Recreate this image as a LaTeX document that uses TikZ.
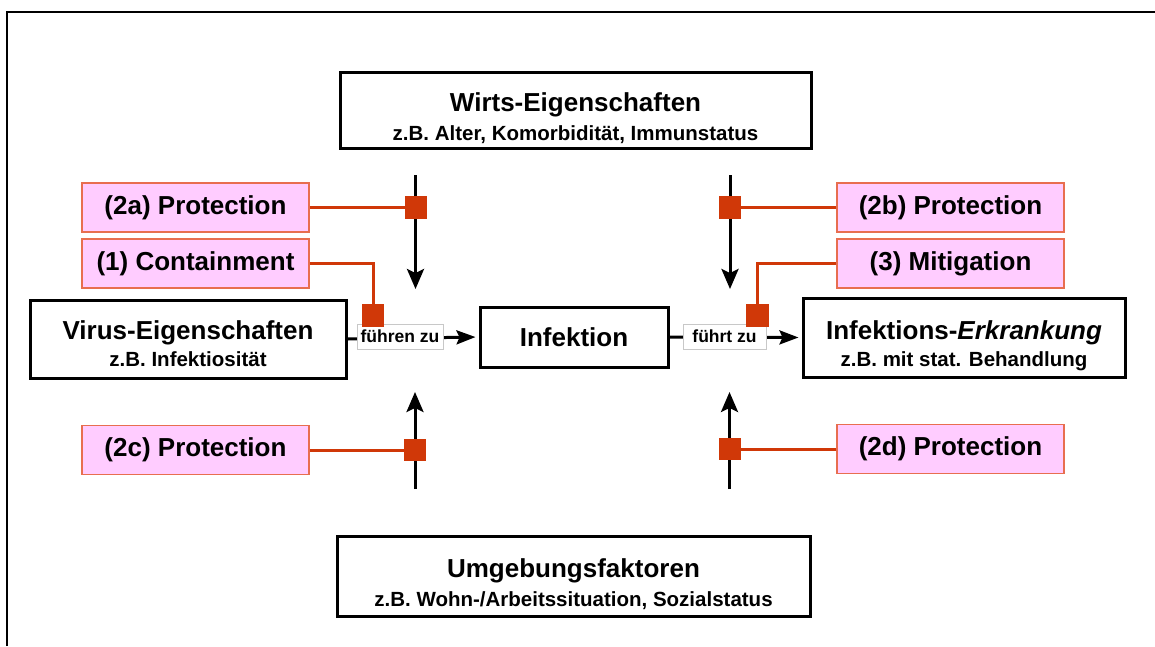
\documentclass[tikz,border=0pt]{standalone}
\usepackage{fontspec}
\setmainfont{Liberation Sans}
\usetikzlibrary{arrows.meta}
\definecolor{pinkfill}{RGB}{255,204,255}
\definecolor{pinkline}{RGB}{232,110,80}
\definecolor{redc}{RGB}{208,56,8}
\definecolor{labgray}{RGB}{200,200,200}
\newcommand{\mytitlefont}{\fontsize{26}{30}\selectfont\bfseries}
\newcommand{\mysubfont}{\fontsize{20.5}{29}\selectfont\bfseries}
\newcommand{\mylabfont}{\fontsize{17.5}{20}\selectfont\bfseries}
\begin{document}
\begin{tikzpicture}[x=1pt,y=-1pt,
  mainbox/.style={draw, line width=3pt, fill=white, inner sep=0pt, align=center},
  pinkbox/.style={draw=pinkline, line width=1.5pt, fill=pinkfill, minimum width=227pt, minimum height=49pt, inner sep=0pt, font=\mytitlefont},
  redsq/.style={fill=redc, minimum size=22pt, inner sep=0pt},
  redln/.style={draw=redc, line width=3pt},
  flowv/.style={line width=3pt, -{Stealth[length=20pt,width=17pt,inset=4pt]}},
  flowh/.style={line width=3pt, -{Stealth[length=19pt,width=14pt,inset=3pt]}},
  lab/.style={draw=labgray, line width=1pt, fill=white, minimum height=25pt, inner sep=0pt, font=\mylabfont}]
\useasboundingbox (0,0) rectangle (1155,646);
% frame
\draw[line width=2.5pt] (7,646) -- (7,12) -- (1155,12);

% main boxes
\node[mainbox, minimum width=471pt, minimum height=76pt] (wirts) at (575.5,110)
  {\mytitlefont\rule{0pt}{35pt}Wirts-Eigenschaften\\[7pt] \mysubfont z.B. Alter, Komorbidität, Immunstatus};
\node[mainbox, minimum width=473pt, minimum height=80pt] (umg) at (573.5,576)
  {\mytitlefont\rule{0pt}{35pt}Umgebungsfaktoren\\[7pt] \mysubfont z.B. Wohn-/Arbeitssituation, Sozialstatus};
\node[mainbox, minimum width=316pt, minimum height=78pt] (virus) at (188,339)
  {\mytitlefont\rule{0pt}{28pt}Virus-Eigenschaften\\[6pt] \mysubfont z.B. Infektiosität};
\node[mainbox, minimum width=188pt, minimum height=60pt, font=\mytitlefont] (infekt) at (574,337) {Infektion};
\node[mainbox, minimum width=322pt, minimum height=79pt] (erkr) at (964,337.5)
  {\mytitlefont\rule{0pt}{35pt}Infektions-\textit{Erkrankung}\\[6pt] \mysubfont z.B. mit stat. Behandlung};

% horizontal flow
\draw[flowh, shorten >=3pt] (virus.east) -- (infekt.west);
\draw[flowh, shorten >=3pt] (infekt.east) -- (erkr.west);
\node[lab, minimum width=86pt] (fz1) at (400,336.5) {führen zu};
\node[lab, minimum width=83pt] (fz2) at (724.5,336.5) {führt zu};

% vertical arrows
\coordinate (a1s) at (415.5,175); \coordinate (a1e) at (415.5,289);
\coordinate (a2s) at (730,175);   \coordinate (a2e) at (730,289);
\coordinate (a3s) at (415,489);   \coordinate (a3e) at (415,392);
\coordinate (a4s) at (729.5,489); \coordinate (a4e) at (729.5,392);
\draw[flowv] (a1s) -- (a1e);
\draw[flowv] (a2s) -- (a2e);
\draw[flowv] (a3s) -- (a3e);
\draw[flowv] (a4s) -- (a4e);

% pink boxes
\node[pinkbox] (p2a) at (195.5,207.5) {(2a) Protection};
\node[pinkbox] (p1)  at (195.5,263.5) {(1) Containment};
\node[pinkbox] (p2b) at (950.5,207.5) {(2b) Protection};
\node[pinkbox] (p3)  at (950.5,263.5) {(3) Mitigation};
\node[pinkbox] (p2c) at (195.5,450) {(2c) Protection};
\node[pinkbox] (p2d) at (950.5,449) {(2d) Protection};

% squares (positions)
\node[redsq] (sq2a) at (416,207.5) {};
\node[redsq] (sq1)  at (373,315.5) {};
\node[redsq] (sq2b) at (730,207.5) {};
\node[redsq] (sq3)  at (757.5,315.5) {};
\node[redsq] (sq2c) at (415,450) {};
\node[redsq] (sq2d) at (730,449) {};

% red connectors
\draw[redln] (p2a.east) -- (sq2a.center);
\draw[redln] (p1.east) -| (sq1.center);
\draw[redln] (p2b.west) -- (sq2b.center);
\draw[redln] (p3.west) -| (sq3.center);
\draw[redln] (p2c.east) -- (sq2c.center);
\draw[redln] (p2d.west) -- (sq2d.center);

% squares on top
\foreach \s in {sq2a,sq1,sq2b,sq3,sq2c,sq2d} \fill[redc] (\s.south west) rectangle (\s.north east);
\end{tikzpicture}
\end{document}
